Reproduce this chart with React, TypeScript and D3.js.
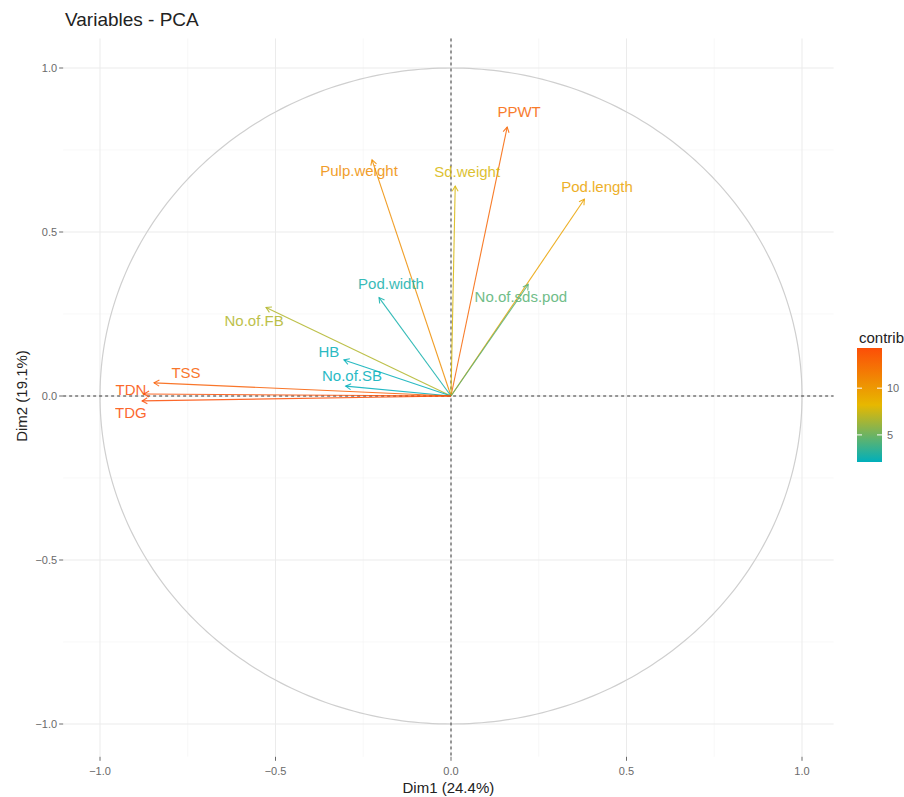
import React, { useEffect, useRef } from 'react'
import * as d3 from 'd3'

// variables (fviz_pca_var, coloured by contrib)
const variables = ['PPWT', 'Pulp.weight', 'Sd.weight', 'Pod.length', 'Pod.width', 'No.of.sds.pod', 'No.of.FB', 'HB', 'No.of.SB', 'TSS', 'TDN', 'TDG']
const dim1 = [0.16, -0.225, 0.012, 0.38, -0.205, 0.22, -0.527, -0.305, -0.30, -0.846, -0.875, -0.88]
const dim2 = [0.82, 0.72, 0.64, 0.60, 0.30, 0.34, 0.27, 0.11, 0.03, 0.04, 0.006, -0.015]
const contrib = [12.9, 10.6, 7.8, 9.4, 2.6, 4.4, 6.8, 2.2, 2.1, 13.3, 14.1, 14.3]
// repelled label positions (data units)
const labelX = [0.194, -0.262, 0.046, 0.416, -0.171, 0.199, -0.561, -0.348, -0.282, -0.755, -0.912, -0.912]
const labelY = [0.866, 0.686, 0.683, 0.637, 0.341, 0.302, 0.229, 0.134, 0.061, 0.07, 0.018, -0.052]

const majorTicks = [-1, -0.5, 0, 0.5, 1]
const minorTicks = [-0.75, -0.25, 0.25, 0.75]
const legendTicks = [5, 10]
const gradientCols = ['#00AFBB', '#E7B800', '#FC4E07']

const W = 904
const H = 797

const App = () => {
    const svgRef = useRef<SVGSVGElement>(null)

    useEffect(() => {
        const svg = d3.select(svgRef.current)
        svg.selectAll('*').remove()

        const x = d3.scaleLinear().domain([-1, 1]).range([100, 802])
        const y = d3.scaleLinear().domain([-1, 1]).range([724, 68])
        const left = x(-1.105), right = x(1.09)
        const top = y(1.09), bottom = y(-1.1)

        const cMin = d3.min(contrib)!, cMax = d3.max(contrib)!
        const color = d3.scaleLinear<string>()
            .domain([cMin, (cMin + cMax) / 2, cMax])
            .range(gradientCols)

        const font = 'Liberation Sans, Arial, sans-serif'

        // grid
        const grid = svg.append('g')
        minorTicks.forEach(t => {
            grid.append('line').attr('x1', x(t)).attr('x2', x(t)).attr('y1', top).attr('y2', bottom)
                .attr('stroke', '#f4f4f4').attr('stroke-width', 0.6)
            grid.append('line').attr('y1', y(t)).attr('y2', y(t)).attr('x1', left).attr('x2', right)
                .attr('stroke', '#f4f4f4').attr('stroke-width', 0.6)
        })
        majorTicks.forEach(t => {
            grid.append('line').attr('x1', x(t)).attr('x2', x(t)).attr('y1', top).attr('y2', bottom)
                .attr('stroke', '#ebebeb').attr('stroke-width', 1)
            grid.append('line').attr('y1', y(t)).attr('y2', y(t)).attr('x1', left).attr('x2', right)
                .attr('stroke', '#ebebeb').attr('stroke-width', 1)
        })

        // correlation circle
        const circle = d3.line<number>()
            .x(a => x(Math.cos(a)))
            .y(a => y(Math.sin(a)))
        svg.append('path')
            .datum(d3.range(0, 361).map(d => d * Math.PI / 180))
            .attr('d', circle)
            .attr('fill', 'none')
            .attr('stroke', '#cfcfcf')
            .attr('stroke-width', 1.2)

        // dashed axes through origin
        svg.append('line').attr('x1', x(0)).attr('x2', x(0)).attr('y1', top).attr('y2', bottom)
            .attr('stroke', '#222').attr('stroke-width', 0.9).attr('stroke-dasharray', '3,3')
        svg.append('line').attr('y1', y(0)).attr('y2', y(0)).attr('x1', left).attr('x2', right)
            .attr('stroke', '#222').attr('stroke-width', 0.9).attr('stroke-dasharray', '3,3')

        // arrows
        const arrows = svg.append('g')
        variables.forEach((v, i) => {
            const x1 = x(dim1[i]), y1 = y(dim2[i])
            const x0 = x(0), y0 = y(0)
            const col = color(contrib[i])
            arrows.append('line')
                .attr('x1', x0).attr('y1', y0).attr('x2', x1).attr('y2', y1)
                .attr('stroke', col).attr('stroke-width', 1.1).attr('opacity', 0.85)
            const ang = Math.atan2(y1 - y0, x1 - x0)
            const len = 6, spread = Math.PI / 6
            const head = d3.line()([
                [x1 - len * Math.cos(ang - spread), y1 - len * Math.sin(ang - spread)],
                [x1, y1],
                [x1 - len * Math.cos(ang + spread), y1 - len * Math.sin(ang + spread)]
            ])
            arrows.append('path').attr('d', head).attr('fill', 'none')
                .attr('stroke', col).attr('stroke-width', 1.1).attr('opacity', 0.85)
        })

        // labels
        svg.append('g').selectAll('text')
            .data(variables)
            .join('text')
            .attr('x', (d, i) => x(labelX[i]))
            .attr('y', (d, i) => y(labelY[i]))
            .attr('dy', '0.35em')
            .attr('text-anchor', 'middle')
            .attr('font-family', font)
            .attr('font-size', 15)
            .attr('fill', (d, i) => color(contrib[i]))
            .attr('opacity', 0.85)
            .text(d => d)

        // axes ticks
        const axisCol = '#6a6a6a'
        const xa = svg.append('g')
        majorTicks.forEach(t => {
            xa.append('line').attr('x1', x(t)).attr('x2', x(t)).attr('y1', bottom).attr('y2', bottom + 4)
                .attr('stroke', '#444').attr('stroke-width', 0.8)
            xa.append('text').attr('x', x(t)).attr('y', bottom + 18).attr('text-anchor', 'middle')
                .attr('font-family', font).attr('font-size', 11).attr('fill', axisCol)
                .text(d3.format('.1f')(t))
        })
        const ya = svg.append('g')
        majorTicks.forEach(t => {
            ya.append('line').attr('y1', y(t)).attr('y2', y(t)).attr('x1', left - 4).attr('x2', left)
                .attr('stroke', '#444').attr('stroke-width', 0.8)
            ya.append('text').attr('x', left - 6).attr('y', y(t)).attr('dy', '0.35em').attr('text-anchor', 'end')
                .attr('font-family', font).attr('font-size', 11).attr('fill', axisCol)
                .text(d3.format('.1f')(t))
        })

        // titles
        svg.append('text').attr('x', 65).attr('y', 26).attr('font-family', font).attr('font-size', 19)
            .attr('fill', '#222').text('Variables - PCA')
        svg.append('text').attr('x', (left + right) / 2).attr('y', 793).attr('text-anchor', 'middle')
            .attr('font-family', font).attr('font-size', 15).attr('fill', '#222').text('Dim1 (24.4%)')
        svg.append('text').attr('transform', `translate(27,${y(0)}) rotate(-90)`)
            .attr('text-anchor', 'middle').attr('font-family', font).attr('font-size', 15)
            .attr('fill', '#222').text('Dim2 (19.1%)')

        // legend
        const lx = 857, lw = 25, ly0 = 348, ly1 = 462
        const ls = d3.scaleLinear().domain([cMin, cMax]).range([ly1, ly0])
        const defs = svg.append('defs')
        const grad = defs.append('linearGradient').attr('id', 'contribGrad')
            .attr('x1', 0).attr('x2', 0).attr('y1', 1).attr('y2', 0)
        d3.range(0, 1.0001, 0.1).forEach(f => {
            grad.append('stop').attr('offset', f).attr('stop-color', color(cMin + f * (cMax - cMin)))
        })
        svg.append('text').attr('x', lx + 2).attr('y', ly0 - 5).attr('font-family', font)
            .attr('font-size', 15).attr('fill', '#222').text('contrib')
        svg.append('rect').attr('x', lx).attr('y', ly0).attr('width', lw).attr('height', ly1 - ly0)
            .attr('fill', 'url(#contribGrad)')
        legendTicks.forEach(t => {
            svg.append('line').attr('x1', lx).attr('x2', lx + 5).attr('y1', ls(t)).attr('y2', ls(t))
                .attr('stroke', '#fff').attr('stroke-width', 1)
            svg.append('line').attr('x1', lx + lw - 5).attr('x2', lx + lw).attr('y1', ls(t)).attr('y2', ls(t))
                .attr('stroke', '#fff').attr('stroke-width', 1)
            svg.append('text').attr('x', lx + lw + 5).attr('y', ls(t)).attr('dy', '0.35em')
                .attr('font-family', font).attr('font-size', 11).attr('fill', axisCol).text(t)
        })
    }, [])

    return (
        <svg ref={svgRef} width={W} height={H}
            style={{ position: 'absolute', left: 0, top: 0, background: '#fff' }} />
    )
}

export default App
